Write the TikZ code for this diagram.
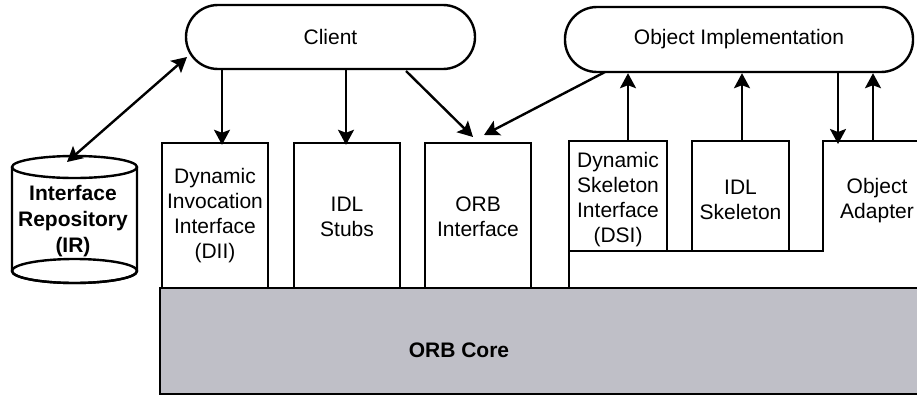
\documentclass[tikz,border=0pt]{standalone}
\usepackage{fontspec}
\setmainfont{Liberation Sans}
\usetikzlibrary{arrows.meta}
\definecolor{coregray}{RGB}{191,191,199}
\begin{document}
\begin{tikzpicture}[x=1pt,y=-1pt,
  every node/.style={inner sep=0pt, align=center, font=\fontsize{21}{25}\selectfont},
  ln/.style={line width=2.4pt, line join=miter},
  arr/.style={ln, -{Stealth[length=15pt,width=16pt,inset=3pt]}},
  biarr/.style={ln, {Stealth[length=15pt,width=16pt,inset=3pt]}-{Stealth[length=15pt,width=16pt,inset=3pt]}},
  pill/.style={ln, draw, fill=white, rounded corners=32pt},
  blk/.style={ln, draw, fill=white}
]
\clip (0,0) rectangle (917,396);

% ORB core
\draw[ln, fill=coregray] (160,288) rectangle (940,394);
\node[font=\fontsize{21}{25}\selectfont\bfseries] (core) at (459,350) {ORB Core};

% Client side boxes
\node[blk, minimum width=106pt, minimum height=145pt] (dii) at (215,215.5) {};
\node at (215,216) {Dynamic\\Invocation\\Interface\\(DII)};
\node[blk, minimum width=106pt, minimum height=145pt] (stubs) at (347,215.5) {};
\node at (347,217) {IDL\\Stubs};
\node[blk, minimum width=106pt, minimum height=145pt] (orbif) at (478,215.5) {};
\node at (478,217) {ORB\\Interface};

% Server side: platform and boxes
\draw[ln] (569,288) -- (569,251) -- (823,251) -- (823,141) -- (940,141);
\coordinate (adapter) at (870,141);
\node (adtext) at (877,201) {Object\\Adapter};
\node[blk, minimum width=98pt, minimum height=110pt] (dsi) at (618,196) {};
\node at (618,199.5) {Dynamic\\Skeleton\\Interface\\(DSI)};
\node[blk, minimum width=97pt, minimum height=110pt] (skel) at (740.5,196) {};
\node at (740.5,200) {IDL\\Skeleton};

% Interface repository cylinder
\draw[ln, fill=white] (12,167) -- (12,271) arc[start angle=180, end angle=360, x radius=62.5pt, y radius=12pt] -- (137,167);
\draw[ln] (74.5,271) ellipse[x radius=62.5pt, y radius=12pt];
\draw[ln, fill=white] (74.5,167) ellipse[x radius=62.5pt, y radius=11pt];
\node[font=\fontsize{21}{26}\selectfont\bfseries] (ir) at (73,221) {Interface\\Repository\\(IR)};
\coordinate (irtop) at (67,162);

% Client and object implementation
\node[pill, minimum width=289pt, minimum height=64pt] (client) at (330.5,37) {Client};
\node[pill, minimum width=348pt, minimum height=65pt] (objimpl) at (739,39.5) {Object Implementation};
\coordinate (clientend) at (187,57);

% Connectors
\draw[biarr] (irtop) -- (clientend);
\draw[arr] (client.south -| 222,0) -- ([yshift=-3pt]dii.north -| 222,0);
\draw[arr] (client.south -| 346,0) -- ([yshift=-3pt]stubs.north -| 346,0);
\draw[arr] (406,71) -- (473,137);
\draw[arr] (605,72) -- (484,135);
\draw[arr] (dsi.north -| 628,0) -- (objimpl.south -| 628,0);
\draw[arr] (skel.north -| 742,0) -- (objimpl.south -| 742,0);
\draw[arr] (objimpl.south -| 838,0) -- ([yshift=-3pt]adapter -| 838,0);
\draw[arr] (adapter -| 873,0) -- (objimpl.south -| 873,0);
\end{tikzpicture}
\end{document}
